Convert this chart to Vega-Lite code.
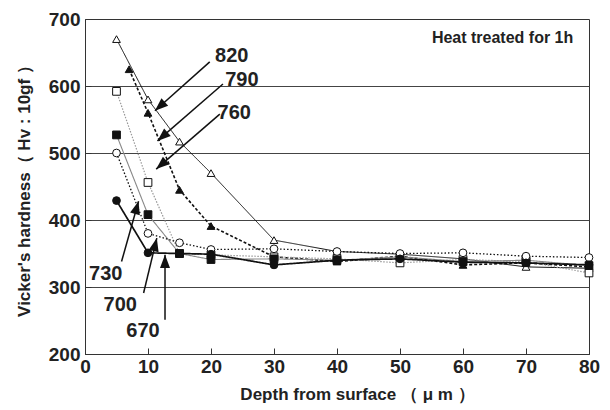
{
  "$schema": "https://vega.github.io/schema/vega-lite/v6.json",
  "width": 504,
  "height": 335,
  "autosize": "none",
  "padding": {"left": 85, "top": 19, "right": 21, "bottom": 56},
  "background": "white",
  "config": {
    "view": {"stroke": "#333", "strokeWidth": 1},
    "font": "Liberation Sans",
    "axis": {
      "domainColor": "#333",
      "tickColor": "#333",
      "labelFont": "Liberation Sans",
      "labelFontWeight": "bold",
      "labelFontSize": 19,
      "labelColor": "#222",
      "labelFlush": false,
      "labelOverlap": false,
      "titleFont": "Liberation Sans",
      "titleFontWeight": "bold",
      "titleFontSize": 17,
      "titleColor": "#222"
    }
  },
  "datasets": {
    "hardness": [
      {"temp": "820", "depth": 5, "hv": 670},
      {"temp": "820", "depth": 10, "hv": 580},
      {"temp": "820", "depth": 15, "hv": 517},
      {"temp": "820", "depth": 20, "hv": 470},
      {"temp": "820", "depth": 30, "hv": 370},
      {"temp": "820", "depth": 40, "hv": 353},
      {"temp": "820", "depth": 50, "hv": 349},
      {"temp": "820", "depth": 60, "hv": 342},
      {"temp": "820", "depth": 70, "hv": 330},
      {"temp": "820", "depth": 80, "hv": 328},
      {"temp": "790", "depth": 7, "hv": 625},
      {"temp": "790", "depth": 10, "hv": 560},
      {"temp": "790", "depth": 15, "hv": 445},
      {"temp": "790", "depth": 20, "hv": 391},
      {"temp": "790", "depth": 30, "hv": 345},
      {"temp": "790", "depth": 40, "hv": 338},
      {"temp": "790", "depth": 50, "hv": 346},
      {"temp": "790", "depth": 60, "hv": 333},
      {"temp": "790", "depth": 70, "hv": 336},
      {"temp": "790", "depth": 80, "hv": 330},
      {"temp": "760", "depth": 5, "hv": 592},
      {"temp": "760", "depth": 10, "hv": 456},
      {"temp": "760", "depth": 15, "hv": 350},
      {"temp": "760", "depth": 20, "hv": 348},
      {"temp": "760", "depth": 30, "hv": 345},
      {"temp": "760", "depth": 40, "hv": 342},
      {"temp": "760", "depth": 50, "hv": 336},
      {"temp": "760", "depth": 60, "hv": 341},
      {"temp": "760", "depth": 70, "hv": 338},
      {"temp": "760", "depth": 80, "hv": 321},
      {"temp": "730", "depth": 5, "hv": 527},
      {"temp": "730", "depth": 10, "hv": 408},
      {"temp": "730", "depth": 15, "hv": 350},
      {"temp": "730", "depth": 20, "hv": 341},
      {"temp": "730", "depth": 30, "hv": 342},
      {"temp": "730", "depth": 40, "hv": 340},
      {"temp": "730", "depth": 50, "hv": 345},
      {"temp": "730", "depth": 60, "hv": 338},
      {"temp": "730", "depth": 70, "hv": 340},
      {"temp": "730", "depth": 80, "hv": 332},
      {"temp": "700", "depth": 5, "hv": 500},
      {"temp": "700", "depth": 10, "hv": 380},
      {"temp": "700", "depth": 15, "hv": 366},
      {"temp": "700", "depth": 20, "hv": 356},
      {"temp": "700", "depth": 30, "hv": 357},
      {"temp": "700", "depth": 40, "hv": 353},
      {"temp": "700", "depth": 50, "hv": 350},
      {"temp": "700", "depth": 60, "hv": 351},
      {"temp": "700", "depth": 70, "hv": 346},
      {"temp": "700", "depth": 80, "hv": 344},
      {"temp": "670", "depth": 5, "hv": 429},
      {"temp": "670", "depth": 10, "hv": 351},
      {"temp": "670", "depth": 15, "hv": 350},
      {"temp": "670", "depth": 20, "hv": 349},
      {"temp": "670", "depth": 30, "hv": 333},
      {"temp": "670", "depth": 40, "hv": 340},
      {"temp": "670", "depth": 50, "hv": 342},
      {"temp": "670", "depth": 60, "hv": 337},
      {"temp": "670", "depth": 70, "hv": 336},
      {"temp": "670", "depth": 80, "hv": 333}
    ],
    "callouts": [
      {"label": "820", "lx": 23.3, "ly": 645, "x": 19.8, "y": 636, "tx": 11.1, "ty": 563},
      {"label": "790", "lx": 24.9, "ly": 609, "x": 21.9, "y": 603, "tx": 11.5, "ty": 518},
      {"label": "760", "lx": 23.7, "ly": 560, "x": 21.4, "y": 558, "tx": 11.3, "ty": 476},
      {"label": "730", "lx": 3.3, "ly": 320, "x": 5.8, "y": 338, "tx": 8.5, "ty": 428},
      {"label": "700", "lx": 5.6, "ly": 273, "x": 9.3, "y": 291, "tx": 11.4, "ty": 373},
      {"label": "670", "lx": 9.2, "ly": 234, "x": 12.7, "y": 251, "tx": 12.7, "ty": 348}
    ],
    "notes": [
      {"note": "Heat treated for 1h", "x": 77.5, "y": 671}
    ]
  },
  "layer": [
    {
      "data": {"name": "hardness"},
      "mark": {"type": "line", "clip": true},
      "encoding": {
        "x": {
          "field": "depth", "type": "quantitative",
          "scale": {"domain": [0, 80], "nice": false},
          "axis": {
            "title": "Depth from surface （ μ m ）",
            "values": [0, 10, 20, 30, 40, 50, 60, 70, 80],
            "tickSize": -6, "labelPadding": 9, "grid": false,
            "titlePadding": 10,
            "titleX": 272,
            "titleAlign": "center"
          }
        },
        "y": {
          "field": "hv", "type": "quantitative",
          "scale": {"domain": [200, 700], "nice": false},
          "axis": {
            "title": "Vicker's hardness（ Hv : 10gf ）",
            "values": [200, 250, 300, 350, 400, 450, 500, 550, 600, 650, 700],
            "labelExpr": "datum.value % 100 === 0 ? datum.label : ''",
            "tickSize": -6, "labelPadding": 11,
            "grid": true,
            "gridColor": "#444",
            "gridWidth": 1,
            "gridOpacity": {"condition": {"test": "datum.value % 100 === 0 && datum.value > 200 && datum.value < 700", "value": 1}, "value": 0},
            "titlePadding": 15
          }
        },
        "detail": {"field": "temp"},
        "color": {
          "field": "temp", "type": "nominal", "legend": null,
          "scale": {"domain": ["820", "790", "760", "730", "700", "670"], "range": ["#111", "#111", "#999", "#888", "#111", "#111"]}
        },
        "strokeDash": {
          "field": "temp", "type": "nominal", "legend": null,
          "scale": {"domain": ["820", "790", "760", "730", "700", "670"], "range": [[1, 0], [3, 2], [1.5, 1.5], [1, 0], [1.5, 2], [1, 0]]}
        },
        "strokeWidth": {
          "field": "temp", "type": "nominal", "legend": null,
          "scale": {"type": "ordinal", "domain": ["820", "790", "760", "730", "700", "670"], "range": [1, 1.6, 1.2, 1.1, 1.3, 1.7]}
        }
      }
    },
    {
      "data": {"name": "hardness"},
      "mark": {"type": "point", "filled": false, "opacity": 1, "strokeWidth": 1, "stroke": "#111"},
      "encoding": {
        "x": {"field": "depth", "type": "quantitative"},
        "y": {"field": "hv", "type": "quantitative"},
        "shape": {
          "field": "temp", "type": "nominal", "legend": null,
          "scale": {"domain": ["820", "790", "760", "730", "700", "670"], "range": ["triangle-up", "triangle-up", "square", "square", "circle", "circle"]}
        },
        "fill": {
          "field": "temp", "type": "nominal", "legend": null,
          "scale": {"domain": ["820", "790", "760", "730", "700", "670"], "range": ["white", "#111", "white", "#111", "white", "#111"]}
        },
        "size": {"value": 60}
      }
    },
    {
      "data": {"name": "callouts"},
      "mark": {"type": "rule", "color": "#111", "strokeWidth": 1.5},
      "encoding": {
        "x": {"field": "x", "type": "quantitative"},
        "y": {"field": "y", "type": "quantitative"},
        "x2": {"field": "tx"},
        "y2": {"field": "ty"}
      }
    },
    {
      "data": {"name": "callouts"},
      "transform": [
        {"calculate": "atan2((datum.tx - datum.x) * 6.3, (datum.ty - datum.y) * 0.67) * 180 / PI", "as": "heading"}
      ],
      "mark": {"type": "point", "filled": true, "color": "#111", "opacity": 1, "shape": "M0,0L-0.38,1L0.38,1Z", "size": 700},
      "encoding": {
        "x": {"field": "tx", "type": "quantitative"},
        "y": {"field": "ty", "type": "quantitative"},
        "angle": {"field": "heading", "type": "quantitative", "scale": null}
      }
    },
    {
      "data": {"name": "callouts"},
      "mark": {"type": "text", "font": "Liberation Sans", "fontWeight": "bold", "fontSize": 20, "color": "#222", "align": "center", "baseline": "middle"},
      "encoding": {
        "x": {"field": "lx", "type": "quantitative"},
        "y": {"field": "ly", "type": "quantitative"},
        "text": {"field": "label"}
      }
    },
    {
      "data": {"name": "notes"},
      "mark": {"type": "text", "font": "Liberation Sans", "fontWeight": "bold", "fontSize": 16, "color": "#222", "align": "right", "baseline": "middle"},
      "encoding": {
        "x": {"field": "x", "type": "quantitative"},
        "y": {"field": "y", "type": "quantitative"},
        "text": {"field": "note"}
      }
    }
  ]
}
